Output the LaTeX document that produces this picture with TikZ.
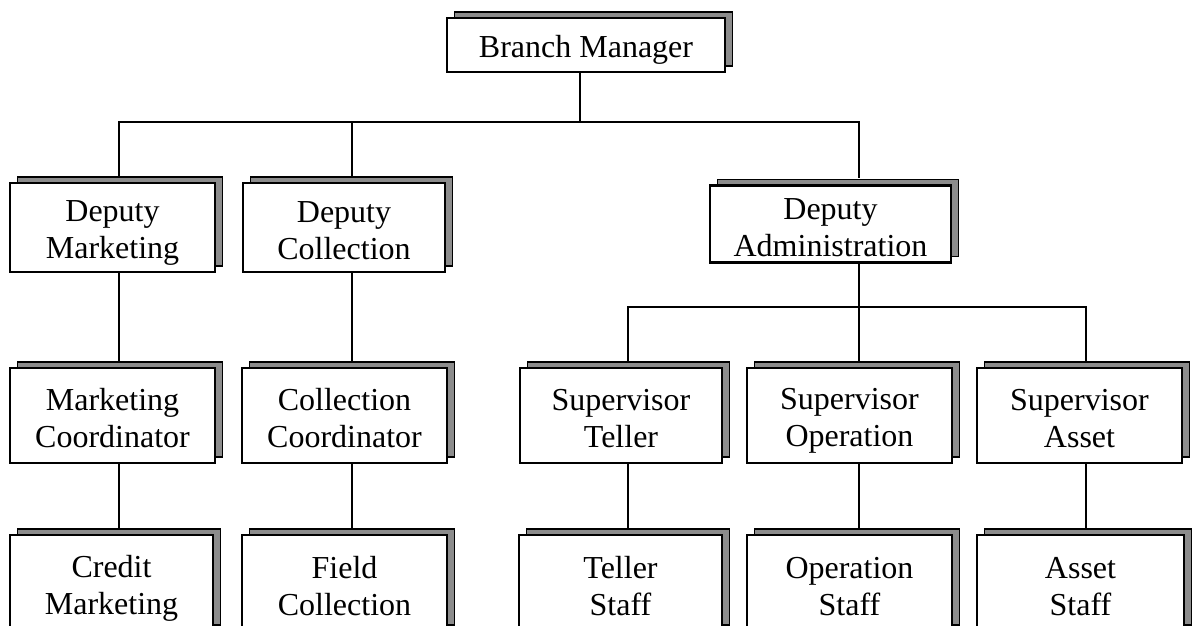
\documentclass[tikz,border=0pt]{standalone}
\usepackage{fontspec}
\setmainfont{Liberation Serif}
\usetikzlibrary{shadows}
\newcommand{\topstrut}{\rule{0pt}{32.5pt}}
\newcommand{\botstrut}{\rule[-5.5pt]{0pt}{5.5pt}}
\newcommand{\twolines}[2]{\topstrut#1\\#2\botstrut}
\begin{document}
\begin{tikzpicture}[x=1pt,y=-1pt,
  box/.style={draw=black, fill=white, line width=2.2pt, rectangle, inner sep=0pt,
    align=center, font=\fontsize{32}{37}\selectfont,
    drop shadow={shadow xshift=7.5pt, shadow yshift=6pt, fill=black!45, draw=black, line width=1.2pt, opacity=1}},
  link/.style={line width=2pt, draw=black}]
\useasboundingbox (0,0) rectangle (1192,626);
\clip (0,0) rectangle (1192,626);
\fill[white] (0,0) rectangle (1192,626);

% nodes
\node[box, minimum width=278pt, minimum height=54pt] (bm) at (586,45) {\topstrut Branch Manager\botstrut};
\node[box, minimum width=205pt, minimum height=89pt] (dm) at (112.5,227.5) {\twolines{Deputy}{Marketing}};
\node[box, minimum width=202pt, minimum height=89pt] (dc) at (344,227.5) {\twolines{Deputy}{Collection}};
\node[box, minimum width=241pt, minimum height=77pt] (da) at (830.5,224) {\twolines{Deputy}{Administration}};
\node[box, minimum width=205pt, minimum height=95pt] (mc) at (112.5,415.5) {\twolines{Marketing}{Coordinator}};
\node[box, minimum width=205pt, minimum height=95pt] (cc) at (344.5,415.5) {\twolines{Collection}{Coordinator}};
\node[box, minimum width=202pt, minimum height=95pt] (st) at (621,415.5) {\twolines{Supervisor}{Teller}};
\node[box, minimum width=205pt, minimum height=95pt] (so) at (849.5,415.5) {\twolines{Supervisor}{Operation}};
\node[box, minimum width=205pt, minimum height=95pt] (sa) at (1079.5,415.5) {\twolines{Supervisor}{Asset}};
\node[box, minimum width=203pt, minimum height=96pt] (cm) at (111.5,583) {\twolines{Credit}{Marketing}};
\node[box, minimum width=205pt, minimum height=96pt] (fc) at (344.5,583) {\twolines{Field}{Collection}};
\node[box, minimum width=203pt, minimum height=96pt] (ts) at (620.5,583) {\twolines{Teller}{Staff}};
\node[box, minimum width=205pt, minimum height=96pt] (os) at (849.5,583) {\twolines{Operation}{Staff}};
\node[box, minimum width=207pt, minimum height=96pt] (as) at (1080.5,583) {\twolines{Asset}{Staff}};

% junctions
\coordinate (j1) at (580,122);
\coordinate (j2) at (859,307);

% connector end points (centre of box plus shadow)
\coordinate (dmT) at ([xshift=6pt,yshift=6pt]dm.north);
\coordinate (dcT) at ([xshift=7.5pt,yshift=6pt]dc.north);
\coordinate (daT) at ([xshift=28.5pt,yshift=6pt]da.north);
\coordinate (stT) at ([xshift=7pt,yshift=6pt]st.north);
\coordinate (soT) at ([xshift=9pt,yshift=6pt]so.north);
\coordinate (saT) at ([xshift=6.5pt,yshift=6pt]sa.north);

\draw[link] ([xshift=-6pt]bm.south) -- (j1);
\draw[link] (dmT) |- (j1) -| (daT);
\draw[link] (dcT) -- (dcT |- j1);

\draw[link] ([xshift=28.5pt]da.south) -- (j2);
\draw[link] (stT) |- (j2) -| (saT);
\draw[link] (soT) -- (soT |- j2);

\draw[link] ([xshift=6pt]dm.south) -- ([xshift=6pt,yshift=6pt]mc.north);
\draw[link] ([xshift=6pt]mc.south) -- ([xshift=7pt,yshift=6pt]cm.north);
\draw[link] ([xshift=7.5pt]dc.south) -- ([xshift=7pt,yshift=6pt]cc.north);
\draw[link] ([xshift=7pt]cc.south) -- ([xshift=7pt,yshift=6pt]fc.north);
\draw[link] ([xshift=7pt]st.south) -- ([xshift=7.5pt,yshift=6pt]ts.north);
\draw[link] ([xshift=9pt]so.south) -- ([xshift=9pt,yshift=6pt]os.north);
\draw[link] ([xshift=6.5pt]sa.south) -- ([xshift=5.5pt,yshift=6pt]as.north);
\end{tikzpicture}
\end{document}
